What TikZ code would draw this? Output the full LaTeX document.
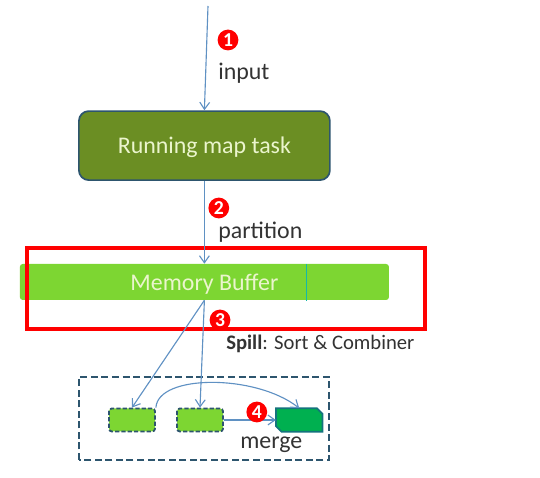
\documentclass[tikz,border=0pt]{standalone}
\usepackage{xcolor}
\usepackage{fontspec}
\setmainfont{Carlito}
\usetikzlibrary{arrows.meta}
\definecolor{olivetask}{RGB}{107, 142, 35}
\definecolor{limebuffer}{RGB}{125, 214, 50}
\definecolor{mergegreen}{RGB}{0, 176, 80}
\definecolor{slateline}{RGB}{45, 85, 110}
\definecolor{mergeline}{RGB}{20, 115, 125}
\definecolor{arrowblue}{RGB}{95, 145, 195}
\definecolor{paletext}{RGB}{235, 245, 205}
\definecolor{tickteal}{RGB}{20, 185, 170}
\tikzset{
  flow/.style={arrowblue, thick, -{Straight Barb[length=5pt, width=7pt]}},
  badge/.style={circle, fill=red, text=white, inner sep=0pt, minimum size=0.52cm, font=\fontsize{14}{14}\selectfont\bfseries},
  label/.style={anchor=west, text=black!80, inner sep=0pt, font=\fontsize{17}{17}\selectfont},
  spillbox/.style={draw=slateline, line width=1.3pt, dash pattern=on 3pt off 1.5pt, fill=limebuffer, rounded corners=2pt, minimum width=1.15cm, minimum height=0.575cm, inner sep=0pt},
}

\begin{document}
\begin{tikzpicture}
  \useasboundingbox (0,0) rectangle (13.5,11.95);

  \node[draw=slateline, line width=1.2pt, fill=olivetask, rounded corners=7pt, minimum width=6.275cm, minimum height=1.725cm, text=paletext, text depth=0pt, font=\fontsize{17}{17}\selectfont] (maptask) at (5.11,8.31) {Running map task};
  \node[fill=limebuffer, rounded corners=2pt, minimum width=9.225cm, minimum height=0.9cm, text=paletext, text depth=0pt, font=\fontsize{17}{17}\selectfont] (buffer) at (5.11,4.9) {Memory Buffer};
  \draw[red, line width=2.6pt] (0.675,3.725) rectangle (10.625,5.75);
  \coordinate (ticktop) at (7.67,5.35);
  \coordinate (tickbot) at (7.67,4.43);
  \draw[tickteal, semithick] (ticktop) -- (tickbot);

  \draw[slateline, line width=1.2pt, dash pattern=on 5pt off 2.5pt] (1.975,0.45) rectangle (8.225,2.525);
  \node[spillbox] (spillA) at (3.3,1.45) {};
  \node[spillbox] (spillB) at (5.0,1.45) {};
  \node[minimum width=1.15cm, minimum height=0.575cm, inner sep=0pt] (merged) at (7.48,1.45) {};
  \draw[mergeline, line width=1.2pt, fill=mergegreen] (merged.north west) -- ([xshift=-4pt]merged.north east) -- ([yshift=-4pt]merged.north east) -- (merged.south east) -- ([xshift=4pt]merged.south west) -- ([yshift=4pt]merged.south west) -- cycle;

  \coordinate (start) at (5.2,11.8);
  \draw[flow] (start) -- (maptask.north);
  \draw[flow] (maptask.south) -- (buffer.north);
  \draw[flow] (buffer.south) -- (spillA.north);
  \draw[flow] (buffer.south) -- (spillB.north);
  \draw[flow] (spillB.east) -- (merged.west);
  \draw[flow] (spillA.north east) .. controls (3.95,2.6) and (6.4,2.6) .. (merged.north);

  \node[badge] (one) at (5.7,10.95) {1};
  \node[badge] (two) at (5.47,6.75) {2};
  \node[badge] (three) at (5.5,3.95) {3};
  \node[badge] (four) at (6.42,1.65) {4};

  \node[label] (input) at (5.45,10.12) {input};
  \node[label] (partition) at (5.45,6.15) {partition};
  \node[label, font=\fontsize{14.7}{14.7}\selectfont] (spill) at (5.65,3.35) {\textbf{Spill}: Sort \& Combiner};
  \node[label] (merge) at (6.0,0.84) {merge};
\end{tikzpicture}
\end{document}
